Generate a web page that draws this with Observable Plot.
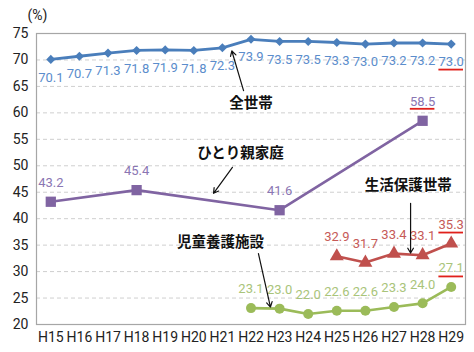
<!DOCTYPE html>
<html><head><meta charset="utf-8">
<script src="https://cdn.jsdelivr.net/npm/d3@7"></script>
<script src="https://cdn.jsdelivr.net/npm/@observablehq/plot@0.6"></script>
<style>body{margin:0;background:#fff}</style>
</head><body><div id="chart"></div>
<script>
const years = [15,16,17,18,19,20,21,22,23,24,25,26,27,28,29];
const allHouseholds = [70.1,70.7,71.3,71.8,71.9,71.8,72.3,73.9,73.5,73.5,73.3,73.0,73.2,73.2,73.0];
const singleParentYears = [15,18,23,28];
const singleParent = [43.2,45.4,41.6,58.5];
const welfareYears = [25,26,27,28,29];
const welfare = [32.9,31.7,33.4,33.1,35.3];
const childCareYears = [22,23,24,25,26,27,28,29];
const childCare = [23.1,23.0,22.0,22.6,22.6,23.3,24.0,27.1];
const yTicks = [20,25,30,35,40,45,50,55,60,65,70,75];
const seriesNames = ["全世帯","ひとり親家庭","生活保護世帯","児童養護施設"];
const annotations = [
  {text: seriesNames[0], x: 22.0, y: 61.8},
  {text: seriesNames[1], x: 21.63, y: 52.3},
  {text: seriesNames[2], x: 27.5, y: 46.3},
  {text: seriesNames[3], x: 20.93, y: 35.5}
];
const arrows = [
  {x1: 21.74, y1: 64.2, x2: 21.33, y2: 71.7},
  {x1: 21.35, y1: 49.7, x2: 20.69, y2: 44.8},
  {x1: 27.58, y1: 42.9, x2: 27.58, y2: 33.5},
  {x1: 22.26, y1: 33.4, x2: 22.68, y2: 23.3}
];
const highlights = [
  {x: 29, y: 73.0, dy: 25.5},
  {x: 28, y: 58.5, dy: -12},
  {x: 29, y: 35.3, dy: -11},
  {x: 29, y: 27.1, dy: -10.5}
];

const zip = (xs, ys) => xs.map((x, i) => ({x, y: ys[i]}));
const all = zip(years, allHouseholds);
const sp = zip(singleParentYears, singleParent);
const wf = zip(welfareYears, welfare);
const cc = zip(childCareYears, childCare);
const fmt = d => d.y.toFixed(1);
const numFont = "Roboto, 'Noto Sans', sans-serif";

const plot = Plot.plot({
  width: 474, height: 352,
  marginLeft: 36, marginRight: 9, marginTop: 33, marginBottom: 28,
  style: {fontFamily: numFont, fontSize: "14px", color: "#222", background: "#fff"},
  x: {type: "linear", domain: [14.5, 29.5], ticks: years, tickFormat: d => "H" + d, tickSize: 0, tickPadding: 8, label: null},
  y: {domain: [20, 75], ticks: yTicks, tickSize: 0, tickPadding: 8, label: null},
  marks: [
    Plot.gridY(yTicks.filter(t => t > 20 && t < 75), {stroke: "#cfcfcf", strokeOpacity: 1, strokeDasharray: "4,3"}),
    Plot.frame({stroke: "#a6a6a6", strokeWidth: 1.2}),
    Plot.line(all, {x: "x", y: "y", stroke: "#4a7ebb", strokeWidth: 2.8}),
    Plot.dot(all, {x: "x", y: "y", symbol: "diamond2", r: 4.1, fill: "#4a7ebb", stroke: "none"}),
    Plot.text(all, {x: "x", y: "y", text: fmt, dy: 18, fill: "#5b8dcc", fontSize: 13}),
    Plot.line(sp, {x: "x", y: "y", stroke: "#8064a2", strokeWidth: 2.6}),
    Plot.dot(sp, {x: "x", y: "y", symbol: "square", r: 5.8, fill: "#8064a2", stroke: "none"}),
    Plot.text(sp, {x: "x", y: "y", text: fmt, dy: -19, fill: "#8a76b3", fontSize: 13}),
    Plot.line(wf, {x: "x", y: "y", stroke: "#c0504d", strokeWidth: 2.6}),
    Plot.dot(wf, {x: "x", y: "y", symbol: "triangle", r: 5.2, fill: "#c0504d", stroke: "none"}),
    Plot.text(wf, {x: "x", y: "y", text: fmt, dy: -19, fill: "#c65a57", fontSize: 13}),
    Plot.line(cc, {x: "x", y: "y", stroke: "#9bbb59", strokeWidth: 2.6}),
    Plot.dot(cc, {x: "x", y: "y", r: 5, fill: "#9bbb59", stroke: "none"}),
    Plot.text(cc, {x: "x", y: "y", text: fmt, dy: -19, fill: "#a9c47a", fontSize: 13}),
    ...highlights.map(h => Plot.ruleY([h], {x1: d => d.x - 0.43, x2: d => d.x + 0.43, y: "y", dy: h.dy, stroke: "#e0201b", strokeWidth: 1.8})),
    Plot.arrow(arrows, {x1: "x1", y1: "y1", x2: "x2", y2: "y2", stroke: "#111", strokeWidth: 1.2, headLength: 7}),
    Plot.text(annotations, {x: "x", y: "y", text: "text", fontFamily: "'Noto Sans CJK JP', sans-serif", fontWeight: "bold", fontSize: 14.5, fill: "#111"}),
    Plot.text(["(%)"], {frameAnchor: "top-left", dx: -9, dy: -23, fontSize: 14, fill: "#222", textAnchor: "start"})
  ]
});
document.getElementById("chart").appendChild(plot);
</script>
</body></html>
